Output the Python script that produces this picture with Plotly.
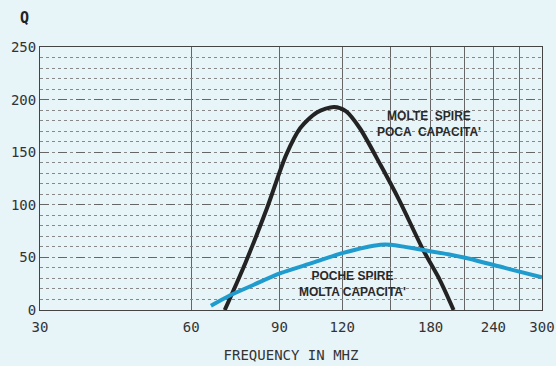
import math
import plotly.graph_objects as go

# ---- data ----
freq_many_turns = [70, 77, 85, 92.7, 99, 107, 115.6, 122, 130, 143, 156, 174, 188, 200]
q_many_turns = [0, 45, 97, 147, 173, 188, 193, 189, 173, 138, 104, 57, 28, 0]

freq_few_turns = [65.7, 71.8, 80, 90.4, 105, 120, 143, 150, 160, 174, 195, 214, 253, 300]
q_few_turns = [4, 14, 24, 35, 45, 54, 62, 62, 60, 57, 53, 49, 40, 31]

x_tick_vals = [30, 60, 90, 120, 180, 240, 300]
x_tick_text = ["30", "60", "90", "120", "180", "240", "300"]
x_grid_vals = [30, 60, 90, 120, 150, 180, 210, 240, 270, 300]
y_tick_vals = [0, 50, 100, 150, 200, 250]

label_many = "MOLTE  SPIRE<br>POCA  CAPACITA'"
label_few = "POCHE SPIRE<br>MOLTA CAPACITA'"

BG = "#e7f4f8"
MONO = "DejaVu Sans Mono"

fig = go.Figure()
fig.add_trace(go.Scatter(
    x=freq_many_turns, y=q_many_turns, mode="lines",
    line=dict(color="#232323", width=4, shape="spline", smoothing=0.8),
    hoverinfo="skip", showlegend=False,
))
fig.add_trace(go.Scatter(
    x=freq_few_turns, y=q_few_turns, mode="lines",
    line=dict(color="#1f9ccd", width=4, shape="spline", smoothing=0.8),
    hoverinfo="skip", showlegend=False,
))

fig.add_annotation(x=math.log10(179), y=177, text="<b>" + label_many.replace("<br>", "</b><br><b>") + "</b>",
                   showarrow=False,
                   font=dict(family="Liberation Sans Narrow, Liberation Sans", size=12, color="#2a2a2a"),
                   align="center")
fig.add_annotation(x=math.log10(126), y=25, text="<b>" + label_few.replace("<br>", "</b><br><b>") + "</b>",
                   showarrow=False,
                   font=dict(family="Liberation Sans Narrow, Liberation Sans", size=12, color="#2a2a2a"),
                   align="center")

fig.add_annotation(xref="paper", yref="paper", x=-0.03, y=1.11, text="<b>Q</b>",
                   showarrow=False, xanchor="center", yanchor="middle",
                   font=dict(family=MONO, size=15, color="#222"))

fig.update_layout(
    width=556, height=366,
    margin=dict(l=40, r=14, t=47, b=56),
    paper_bgcolor=BG, plot_bgcolor=BG,
    xaxis=dict(
        type="log", range=[math.log10(30), math.log10(300)],
        tickvals=x_tick_vals, ticktext=x_tick_text,
        showgrid=False, zeroline=False, automargin=False,
        showline=True, linecolor="#444", linewidth=1, mirror=True,
        ticks="", ticklabelstandoff=4,
        tickfont=dict(family=MONO, size=14, color="#333"),
        minor=dict(tickvals=x_grid_vals, showgrid=True, gridcolor="#666", gridwidth=1, ticks=""),
        title=dict(text="FREQUENCY IN MHZ", font=dict(family=MONO, size=14, color="#333"), standoff=16),
    ),
    yaxis=dict(
        range=[0, 250], tickvals=y_tick_vals,
        showgrid=True, gridcolor="#666", gridwidth=1, griddash="dash",
        zeroline=False, automargin=False,
        showline=True, linecolor="#444", linewidth=1, mirror=True,
        ticks="", tickfont=dict(family=MONO, size=14, color="#333"),
        minor=dict(dtick=10, showgrid=True, gridcolor="#888", gridwidth=1, griddash="dot", ticks=""),
    ),
)

fig.write_html(
    "out.html",
    config={"displayModeBar": False},
    post_script="document.body.style.margin='0';document.body.style.background='" + BG + "';",
)
